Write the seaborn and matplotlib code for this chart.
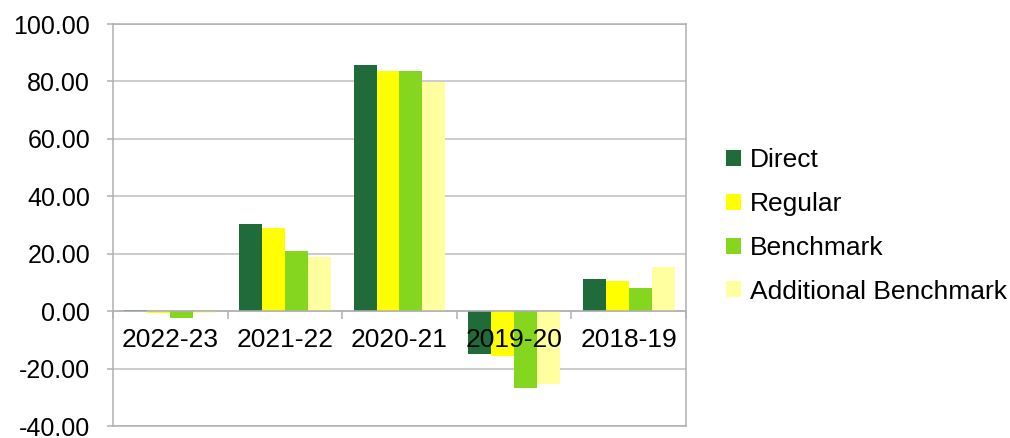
import numpy as np
import pandas as pd
import matplotlib
matplotlib.use("Agg")
import matplotlib.pyplot as plt
import seaborn as sns

categories = ["2022-23", "2021-22", "2020-21", "2019-20", "2018-19"]
series_names = ["Direct", "Regular", "Benchmark", "Additional Benchmark"]
direct = [0.45, 30.2, 85.6, -14.8, 11.1]
regular = [-0.6, 28.8, 83.8, -15.6, 10.4]
benchmark = [-2.5, 20.9, 83.7, -26.9, 8.2]
additional = [-0.7, 19.0, 79.8, -25.3, 15.2]
y_ticks = [-40, -20, 0, 20, 40, 60, 80, 100]

colors = ["#1F6B3A", "#FFFF00", "#84D61E", "#FFFFA0"]

df = pd.DataFrame({
    "Year": categories * 4,
    "Series": sum([[s] * len(categories) for s in series_names], []),
    "Value": direct + regular + benchmark + additional,
})

sns.set_theme(style="white")
plt.rcParams["font.family"] = ["Liberation Sans", "DejaVu Sans"]
plt.rcParams["text.color"] = "black"
plt.rcParams["xtick.color"] = "black"
plt.rcParams["ytick.color"] = "black"

fig = plt.figure(figsize=(10.10, 4.38), dpi=100)
ax = fig.add_axes([113 / 1010, 1 - 426 / 438, (686 - 113) / 1010, (426 - 24) / 438])

sns.barplot(data=df, x="Year", y="Value", hue="Series", order=categories,
            hue_order=series_names, palette=colors, saturation=1, width=0.8,
            ax=ax, legend=True, zorder=3, linewidth=0, edgecolor="none")

ax.set_ylim(-40, 100)
ax.set_xlim(-0.5, len(categories) - 0.5)
ax.set_yticks(y_ticks)
ax.set_yticklabels([f"{v:.2f}" for v in y_ticks], fontsize=18)
ax.tick_params(axis="y", left=True, length=4.5, width=1.1, color="#B0B0B0", pad=12,
               labelcolor="black")
ax.set_xlabel("")
ax.set_ylabel("")
ax.set_xticks([])
ax.grid(axis="y", color="#BEBEBE", linewidth=1.1, zorder=0)
ax.set_axisbelow(True)
for sp in ax.spines.values():
    sp.set_visible(True)
    sp.set_color("#B0B0B0")
    sp.set_linewidth(1.1)

# category axis at zero
sec = ax.secondary_xaxis(40 / 140)
sec.set_xticks(range(len(categories)))
sec.set_xticklabels(categories, fontsize=19)
sec.set_xticks(np.arange(-0.5, len(categories) + 0.5, 1.0), minor=True)
sec.tick_params(axis="x", which="major", length=0, pad=12, labelcolor="black")
sec.tick_params(axis="x", which="minor", length=6, width=1.1, color="#B0B0B0", direction="out")
sec.spines["bottom"].set_color("#B0B0B0")
sec.spines["bottom"].set_linewidth(1.1)
sec.set_zorder(4)

handles, labels = ax.get_legend_handles_labels()
if ax.legend_:
    ax.legend_.remove()
leg = fig.legend(handles, labels, loc="center left", bbox_to_anchor=(726 / 1010, 1 - 226 / 438),
                 frameon=False, fontsize=19, handlelength=0.55, handleheight=0.55,
                 handletextpad=0.35, labelspacing=0.75, borderpad=0, borderaxespad=0)
for t in leg.get_texts():
    t.set_color("black")

fig.savefig("out.png", dpi=100)
